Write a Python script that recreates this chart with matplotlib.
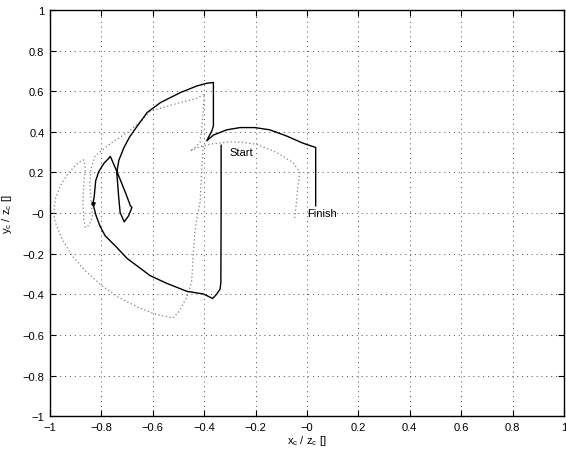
import numpy as np
import matplotlib
matplotlib.use('Agg')
import matplotlib.pyplot as plt
from matplotlib.ticker import FuncFormatter

plt.rcParams['font.family'] = ['Liberation Sans', 'DejaVu Sans']
plt.rcParams['mathtext.fontset'] = 'custom'
plt.rcParams['mathtext.rm'] = 'Liberation Sans'
plt.rcParams['mathtext.it'] = 'Liberation Sans'

# measured trajectory (solid)
meas_x = [-0.334, -0.334, -0.335, -0.338, -0.352, -0.367,
          -0.403, -0.467, -0.545, -0.610, -0.700, -0.740, -0.785, -0.805, -0.820, -0.833,
          -0.828, -0.825, -0.822, -0.810, -0.790, -0.775, -0.765,
          -0.738, -0.706, -0.687, -0.681, -0.694, -0.711,
          -0.727, -0.733, -0.740, -0.732, -0.712, -0.690, -0.669, -0.622, -0.570, -0.493, -0.428, -0.390, -0.364,
          -0.364, -0.370, -0.390,
          -0.364, -0.312, -0.260, -0.203, -0.145, -0.080, -0.015, 0.034, 0.034]
meas_y = [0.334, 0.000, -0.341, -0.374, -0.400, -0.420,
          -0.398, -0.385, -0.346, -0.308, -0.223, -0.169, -0.112, -0.065, -0.015, 0.046,
          0.080, 0.120, 0.160, 0.205, 0.245, 0.265, 0.279,
          0.200, 0.100, 0.036, 0.028, -0.013, -0.043,
          0.003, 0.085, 0.200, 0.260, 0.323, 0.375, 0.413, 0.495, 0.544, 0.593, 0.626, 0.639, 0.643,
          0.430, 0.405, 0.356,
          0.384, 0.410, 0.421, 0.421, 0.410, 0.380, 0.344, 0.323, 0.036]

# reference trajectory (dotted)
ref_x = [-0.404, -0.410, -0.416, -0.429, -0.436, -0.442, -0.449, -0.468, -0.500, -0.522,
         -0.591, -0.656, -0.733, -0.798, -0.863, -0.914, -0.953, -0.979, -0.986, -0.979,
         -0.960, -0.927, -0.889, -0.869,
         -0.862, -0.868, -0.872, -0.868, -0.863, -0.848, -0.835, -0.840, -0.845, -0.840,
         -0.824, -0.759, -0.695, -0.640, -0.610, -0.559, -0.494, -0.430, -0.400,
         -0.404, -0.410, -0.416, -0.436, -0.455,
         -0.420, -0.378, -0.300, -0.250, -0.196, -0.119, -0.054, -0.028, -0.035, -0.041, -0.048]
ref_y = [0.330, 0.200, 0.053, -0.030, -0.095, -0.193, -0.341, -0.415, -0.488, -0.516,
         -0.497, -0.464, -0.415, -0.357, -0.284, -0.210, -0.128, -0.046, 0.003, 0.069,
         0.134, 0.200, 0.249, 0.262,
         0.220, 0.150, 0.050, -0.030, -0.070, -0.060, -0.020, 0.060, 0.150, 0.220,
         0.282, 0.348, 0.400, 0.460, 0.500, 0.520, 0.544, 0.564, 0.585,
         0.495, 0.413, 0.348, 0.323, 0.306,
         0.325, 0.339, 0.351, 0.348, 0.339, 0.299, 0.249, 0.200, 0.134, 0.054, -0.030]

marker_pt = (-0.833, 0.046)
ticks = np.round(np.arange(-1, 1.01, 0.2), 1)

fig = plt.figure(figsize=(5.66, 4.52), dpi=100)
ax = fig.add_axes([0.0883, 0.0768, 0.908, 0.899])

ax.plot(ref_x, ref_y, linestyle=(0, (1, 2)), color='0.5', linewidth=0.9)
ax.plot(meas_x, meas_y, color='black', linewidth=1.0)
ax.plot(*marker_pt, marker='v', color='black', markersize=2.5)

ax.text(-0.30, 0.30, 'Start', fontsize=8, ha='left', va='center')
ax.text(0.0, 0.0, 'Finish', fontsize=8, ha='left', va='center')

ax.set_xlim(-1, 1)
ax.set_ylim(-1, 1)
ax.set_xticks(ticks)
ax.set_yticks(ticks)
fmt = FuncFormatter(lambda v, p: ('%g' % round(v, 1)).replace('-', '\u2212'))
ax.xaxis.set_major_formatter(fmt)
ax.yaxis.set_major_formatter(fmt)
ax.tick_params(direction='in', top=True, right=True, length=4, width=0.8,
               labelsize=8, pad=4)
ax.grid(True, linestyle=(0, (1, 4)), color='0.3', linewidth=0.7)
for s in ax.spines.values():
    s.set_linewidth(1.0)

ax.set_xlabel(r'x$_\mathrm{c}$ / z$_\mathrm{c}$ []', fontsize=8, labelpad=1)
ax.set_ylabel(r'y$_\mathrm{c}$ / z$_\mathrm{c}$ []', fontsize=8, labelpad=6)

fig.savefig('out.png', dpi=100)
